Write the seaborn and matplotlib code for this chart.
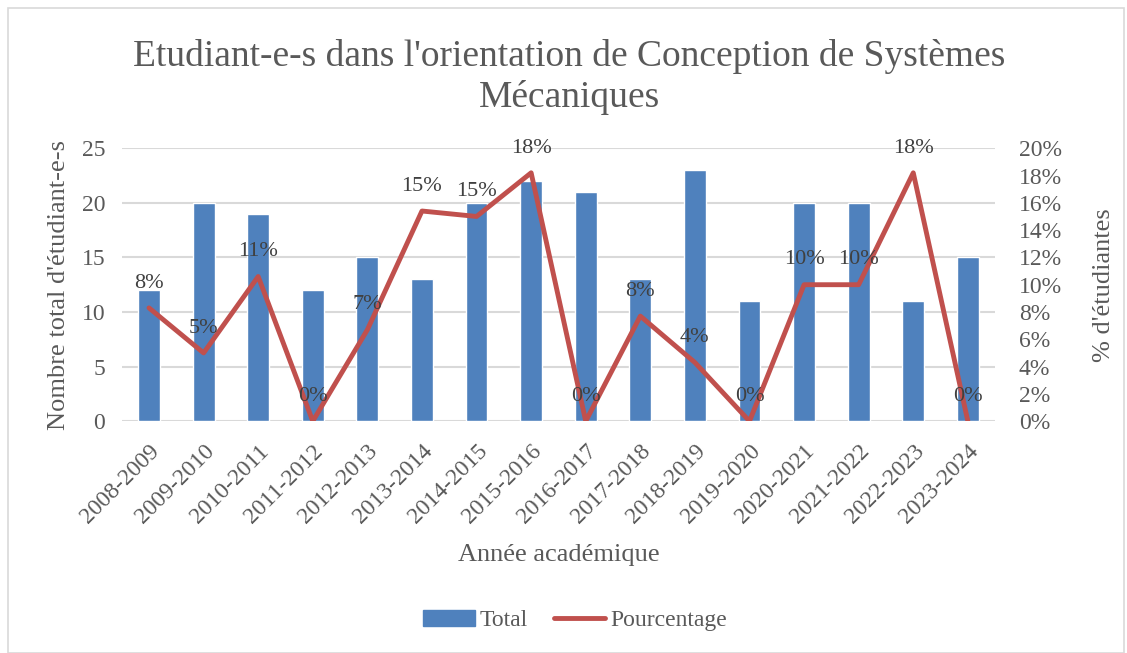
import numpy as np
import pandas as pd
import matplotlib
matplotlib.use('Agg')
import matplotlib.pyplot as plt
import seaborn as sns
from matplotlib.patches import Patch, Rectangle
from matplotlib.lines import Line2D
from matplotlib.ticker import PercentFormatter, MultipleLocator

# ── Data ──────────────────────────────────────────────────────────────────────
years = ["2008-2009", "2009-2010", "2010-2011", "2011-2012", "2012-2013",
         "2013-2014", "2014-2015", "2015-2016", "2016-2017", "2017-2018",
         "2018-2019", "2019-2020", "2020-2021", "2021-2022", "2022-2023",
         "2023-2024"]
total = [12, 20, 19, 12, 15, 13, 20, 22, 21, 13, 23, 11, 20, 20, 11, 15]
pct = [0.083, 0.050, 0.106, 0.0, 0.067, 0.154, 0.150, 0.182, 0.0, 0.077,
       0.043, 0.0, 0.100, 0.100, 0.182, 0.0]

BAR_C = "#4F81BD"
LINE_C = "#C0504D"
TXT_C = "#595959"
GRID_C = "#D9D9D9"

sns.set_theme(style="white")
plt.rcParams['font.family'] = ['Liberation Serif', 'DejaVu Serif']
plt.rcParams['text.color'] = TXT_C

df = pd.DataFrame({"year": years, "total": total, "pct": pct,
                   "pos": np.arange(len(years))})

fig = plt.figure(figsize=(11.27, 6.53), dpi=100)
fig.patches.append(Rectangle((0.007, 0.0), 0.99, 0.988, transform=fig.transFigure,
                             fill=False, edgecolor=GRID_C, lw=1.2))
ax = fig.add_axes([0.108, 0.355, 0.775, 0.418])

sns.barplot(data=df, x="year", y="total", color=BAR_C, width=0.4,
            saturation=1, ax=ax)
ax.set_ylim(0, 25)
ax.yaxis.set_major_locator(MultipleLocator(5))
ax.grid(axis="y", color=GRID_C, lw=1.5)
ax.set_axisbelow(True)
for s in ax.spines.values():
    s.set_visible(False)
ax.tick_params(axis="both", length=0, labelsize=17, colors=TXT_C)
ax.tick_params(axis="y", pad=12)
ax.tick_params(axis="x", pad=14)
plt.setp(ax.get_xticklabels(), rotation=45, ha="right", rotation_mode="anchor")
ax.set_xlabel("Année académique", fontsize=19, color=TXT_C, labelpad=12)
ax.set_ylabel("Nombre total d'étudiant-e-s", fontsize=19, color=TXT_C, labelpad=8)

ax2 = ax.twinx()
sns.lineplot(data=df, x="pos", y="pct", color=LINE_C, lw=3.5, ax=ax2)
ax2.set_ylim(0, 0.20)
ax2.yaxis.set_major_locator(MultipleLocator(0.02))
ax2.yaxis.set_major_formatter(PercentFormatter(1.0, decimals=0))
for s in ax2.spines.values():
    s.set_visible(False)
ax2.tick_params(axis="y", length=0, labelsize=17, colors=TXT_C, pad=17)
ax2.set_ylabel("% d'étudiantes", fontsize=19, color=TXT_C, labelpad=22)
ax2.set_xlabel("")
ax.set_xlim(-0.5, len(years) - 0.5)

for x, p in zip(df["pos"], df["pct"]):
    ax2.annotate(f"{p*100:.0f}%", (x, p), xytext=(0, 11),
                 textcoords="offset points", ha="center", va="bottom",
                 fontsize=16, color="#404040")

fig.suptitle("Etudiant-e-s dans l'orientation de Conception de Systèmes\nMécaniques",
             x=0.505, y=0.94, fontsize=27, color=TXT_C, linespacing=1.2)

handles = [Patch(color=BAR_C, label="Total"),
           Line2D([0], [0], color=LINE_C, lw=3.5, label="Pourcentage")]
fig.legend(handles=handles, loc="center", bbox_to_anchor=(0.51, 0.05), ncol=2,
           frameon=False, fontsize=17, handlelength=2.2, columnspacing=1.1,
           handletextpad=0.2)

fig.savefig("out.png", dpi=100)
